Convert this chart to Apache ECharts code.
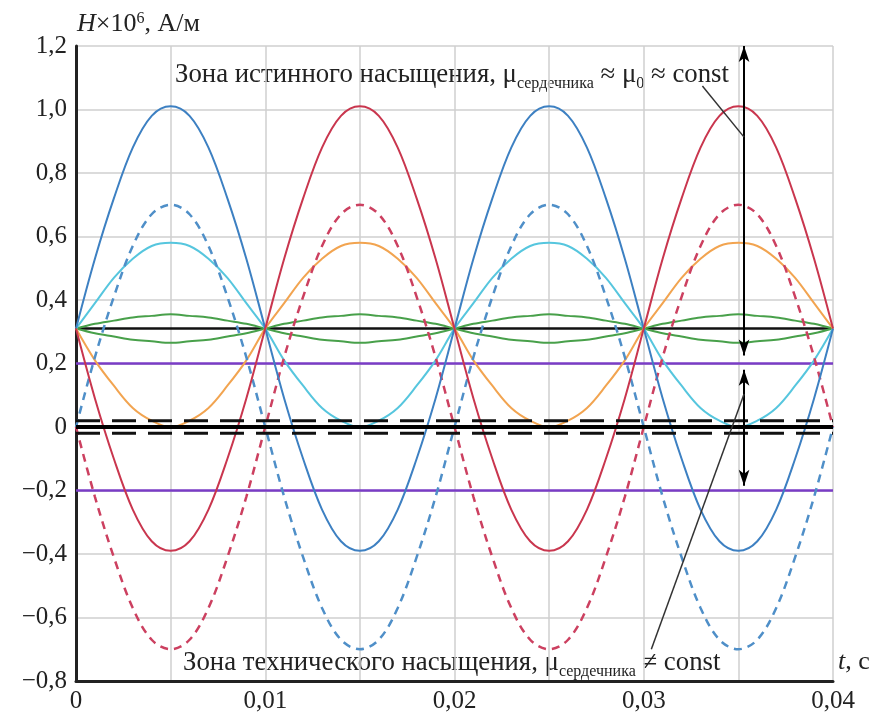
<!DOCTYPE html>
<html>
<head>
<meta charset="utf-8">
<script src="https://cdn.jsdelivr.net/npm/echarts@6/dist/echarts.min.js"></script>
<style>
  html, body { margin: 0; padding: 0; background: #fff; }
  #chart { width: 875px; height: 717px; }
</style>
</head>
<body>
<div id="chart"></div>
<script>
// Time samples, s
const tAxis = [0, 0.001, 0.002, 0.003, 0.004, 0.005, 0.006, 0.007, 0.008, 0.009,
  0.010, 0.011, 0.012, 0.013, 0.014, 0.015, 0.016, 0.017, 0.018, 0.019,
  0.020, 0.021, 0.022, 0.023, 0.024, 0.025, 0.026, 0.027, 0.028, 0.029,
  0.030, 0.031, 0.032, 0.033, 0.034, 0.035, 0.036, 0.037, 0.038, 0.039, 0.040];

// Field strength H×10^6, A/m
const blueSolid = [0.31, 0.53, 0.72, 0.88, 0.98, 1.01, 0.98, 0.88, 0.72, 0.53,
  0.31, 0.09, -0.10, -0.26, -0.36, -0.39, -0.36, -0.26, -0.10, 0.09,
  0.31, 0.53, 0.72, 0.88, 0.98, 1.01, 0.98, 0.88, 0.72, 0.53,
  0.31, 0.09, -0.10, -0.26, -0.36, -0.39, -0.36, -0.26, -0.10, 0.09, 0.31];
const redSolid = [0.31, 0.09, -0.10, -0.26, -0.36, -0.39, -0.36, -0.26, -0.10, 0.09,
  0.31, 0.53, 0.72, 0.88, 0.98, 1.01, 0.98, 0.88, 0.72, 0.53,
  0.31, 0.09, -0.10, -0.26, -0.36, -0.39, -0.36, -0.26, -0.10, 0.09,
  0.31, 0.53, 0.72, 0.88, 0.98, 1.01, 0.98, 0.88, 0.72, 0.53, 0.31];
const blueDashed = [0, 0.22, 0.41, 0.57, 0.67, 0.70, 0.67, 0.57, 0.41, 0.22,
  0, -0.22, -0.41, -0.57, -0.67, -0.70, -0.67, -0.57, -0.41, -0.22,
  0, 0.22, 0.41, 0.57, 0.67, 0.70, 0.67, 0.57, 0.41, 0.22,
  0, -0.22, -0.41, -0.57, -0.67, -0.70, -0.67, -0.57, -0.41, -0.22, 0];
const redDashed = [0, -0.22, -0.41, -0.57, -0.67, -0.70, -0.67, -0.57, -0.41, -0.22,
  0, 0.22, 0.41, 0.57, 0.67, 0.70, 0.67, 0.57, 0.41, 0.22,
  0, -0.22, -0.41, -0.57, -0.67, -0.70, -0.67, -0.57, -0.41, -0.22,
  0, 0.22, 0.41, 0.57, 0.67, 0.70, 0.67, 0.57, 0.41, 0.22, 0];
const cyanSolid = [0.31, 0.39, 0.47, 0.53, 0.57, 0.58, 0.57, 0.53, 0.47, 0.39,
  0.31, 0.21, 0.13, 0.06, 0.02, 0.00, 0.02, 0.06, 0.13, 0.21,
  0.31, 0.39, 0.47, 0.53, 0.57, 0.58, 0.57, 0.53, 0.47, 0.39,
  0.31, 0.21, 0.13, 0.06, 0.02, 0.00, 0.02, 0.06, 0.13, 0.21, 0.31];
const orangeSolid = [0.31, 0.21, 0.13, 0.06, 0.02, 0.00, 0.02, 0.06, 0.13, 0.21,
  0.31, 0.39, 0.47, 0.53, 0.57, 0.58, 0.57, 0.53, 0.47, 0.39,
  0.31, 0.21, 0.13, 0.06, 0.02, 0.00, 0.02, 0.06, 0.13, 0.21,
  0.31, 0.39, 0.47, 0.53, 0.57, 0.58, 0.57, 0.53, 0.47, 0.39, 0.31];
const greenUpper = [0.31, 0.325, 0.335, 0.345, 0.35, 0.355, 0.35, 0.345, 0.335, 0.325,
  0.31, 0.295, 0.285, 0.275, 0.27, 0.265, 0.27, 0.275, 0.285, 0.295,
  0.31, 0.325, 0.335, 0.345, 0.35, 0.355, 0.35, 0.345, 0.335, 0.325,
  0.31, 0.295, 0.285, 0.275, 0.27, 0.265, 0.27, 0.275, 0.285, 0.295, 0.31];
const greenLower = [0.31, 0.295, 0.285, 0.275, 0.27, 0.265, 0.27, 0.275, 0.285, 0.295,
  0.31, 0.325, 0.335, 0.345, 0.35, 0.355, 0.35, 0.345, 0.335, 0.325,
  0.31, 0.295, 0.285, 0.275, 0.27, 0.265, 0.27, 0.275, 0.285, 0.295,
  0.31, 0.325, 0.335, 0.345, 0.35, 0.355, 0.35, 0.345, 0.335, 0.325, 0.31];

// Constant levels
const meanLevel = [0.31];
const purpleLevels = [0.2, -0.2];
const zeroLevel = [0];
const zeroBand = [0.02, -0.02];

// Zone arrows: [t, from, to]
const zoneArrows = [[0.0353, 1.2, 0.225], [0.0353, 0.18, -0.185]];
// Leader lines: [t1, h1, t2, h2]
const leaders = [[0.0331, 1.074, 0.0353, 0.913], [0.0304, -0.70, 0.0353, 0.104]];

const xTicks = { min: 0, max: 0.04, step: 0.005 };
const yTicks = { min: -0.8, max: 1.2, step: 0.2 };

const SERIF = '"Liberation Serif", "DejaVu Serif", serif';
const INK = '#222';

function pts(vals) { return tAxis.map((t, i) => [t, vals[i]]); }
function flat(v) { return [[xTicks.min, v], [xTicks.max, v]]; }

function curve(vals, color, dashed, width) {
  return {
    type: 'line', data: pts(vals), smooth: 0.35, showSymbol: false, silent: true,
    lineStyle: { color, width: width || 2, type: dashed ? [8, 6] : 'solid' },
    z: 3
  };
}
function level(v, color, width, dash, z) {
  return {
    type: 'line', data: flat(v), showSymbol: false, silent: true,
    lineStyle: { color, width, type: dash || 'solid' }, z: z || 2
  };
}

const series = [];
purpleLevels.forEach(v => series.push(level(v, '#7a3cc6', 2.5)));
meanLevel.forEach(v => series.push(level(v, '#111', 2.5)));
series.push(curve(greenUpper, '#48a04a'));
series.push(curve(greenLower, '#48a04a'));
series.push(curve(cyanSolid, '#56c6de'));
series.push(curve(orangeSolid, '#f2a450'));
series.push(curve(blueDashed, '#4f8fc8', true, 2.5));
series.push(curve(redDashed, '#cc4060', true, 2.5));
series.push(curve(blueSolid, '#3d80c2'));
series.push(curve(redSolid, '#c9364e'));
zeroLevel.forEach(v => series.push(level(v, '#000', 4, 'solid', 4)));
zeroBand.forEach(v => series.push(level(v, '#111', 3, [24, 12], 4)));

// Arrows and leader lines
series.push({
  type: 'line', data: [], silent: true, z: 5,
  markLine: {
    silent: true, animation: false, label: { show: false },
    symbol: ['arrow', 'arrow'], symbolSize: [8, 16],
    lineStyle: { color: '#000', width: 2, type: 'solid' },
    data: zoneArrows.map(a => [{ coord: [a[0], a[1]] }, { coord: [a[0], a[2]] }])
  }
});
series.push({
  type: 'line', data: [], silent: true, z: 5,
  markLine: {
    silent: true, animation: false, label: { show: false },
    symbol: ['none', 'none'],
    lineStyle: { color: '#333', width: 1.5, type: 'solid' },
    data: leaders.map(l => [{ coord: [l[0], l[1]] }, { coord: [l[2], l[3]] }])
  }
});

const mainStyle = { fontFamily: SERIF, fontSize: 26, fill: INK, lineHeight: 30, verticalAlign: 'middle' };
const noteStyle = Object.assign({}, mainStyle, { fontSize: 26.8 });
const subStyle = { fontFamily: SERIF, fontSize: 16, fill: INK, lineHeight: 16, verticalAlign: 'bottom', padding: [0, 0, -2, 0] };

const chart = echarts.init(document.getElementById('chart'));
chart.setOption({
  backgroundColor: '#fff',
  animation: false,
  grid: { left: 76, right: 42, top: 46, bottom: 36 },
  xAxis: {
    type: 'value', min: xTicks.min, max: xTicks.max, interval: xTicks.step,
    axisLine: { onZero: false, lineStyle: { color: INK, width: 3 } },
    axisTick: { show: false },
    splitLine: { show: true, lineStyle: { color: '#cfcfcf', width: 1.5 } },
    axisLabel: {
      margin: 8, color: INK, fontFamily: SERIF, fontSize: 25,
      formatter: v => {
        const k = Math.round(v / xTicks.step);
        if (k % 2) return '';
        if (k === 0) return '0';
        return (k * xTicks.step).toFixed(2).replace('.', ',');
      }
    }
  },
  yAxis: {
    type: 'value', min: yTicks.min, max: yTicks.max, interval: yTicks.step,
    axisLine: { show: true, onZero: false, lineStyle: { color: INK, width: 3 } },
    axisTick: { show: false },
    splitLine: { show: true, lineStyle: { color: '#cfcfcf', width: 1.5 } },
    axisLabel: {
      margin: 9, color: INK, fontFamily: SERIF, fontSize: 25,
      formatter: v => {
        const r = Math.round(v * 10) / 10;
        if (r === 0) return '0';
        return (r < 0 ? '\u2212' : '') + Math.abs(r).toFixed(1).replace('.', ',');
      }
    }
  },
  series,
  graphic: [
    {
      type: 'text', x: 77, y: 24, silent: true,
      style: {
        text: '{i|H}{n|×10}{sup|6}{n|, А/м}', verticalAlign: 'middle',
        rich: {
          i: Object.assign({}, mainStyle, { fontStyle: 'italic' }),
          n: mainStyle,
          sup: { fontFamily: SERIF, fontSize: 16, fill: INK, lineHeight: 16, verticalAlign: 'top', padding: [2, 0, 0, 0] }
        }
      }
    },
    {
      type: 'text', x: 838, y: 662, silent: true,
      style: {
        text: '{i|t}{n|, с}', verticalAlign: 'middle',
        rich: { i: Object.assign({}, mainStyle, { fontStyle: 'italic' }), n: mainStyle }
      }
    },
    {
      type: 'text', x: 175, y: 75, silent: true,
      style: {
        text: '{n|Зона истинного насыщения, μ}{sub|сердечника}{n| ≈ μ}{sub|0}{n| ≈ const}',
        verticalAlign: 'middle',
        rich: { n: noteStyle, sub: subStyle }
      }
    },
    {
      type: 'text', x: 183, y: 663, silent: true,
      style: {
        text: '{n|Зона технического насыщения, μ}{sub|сердечника}{n| ≠ const}',
        verticalAlign: 'middle',
        rich: { n: noteStyle, sub: subStyle }
      }
    }
  ]
});
</script>
</body>
</html>
